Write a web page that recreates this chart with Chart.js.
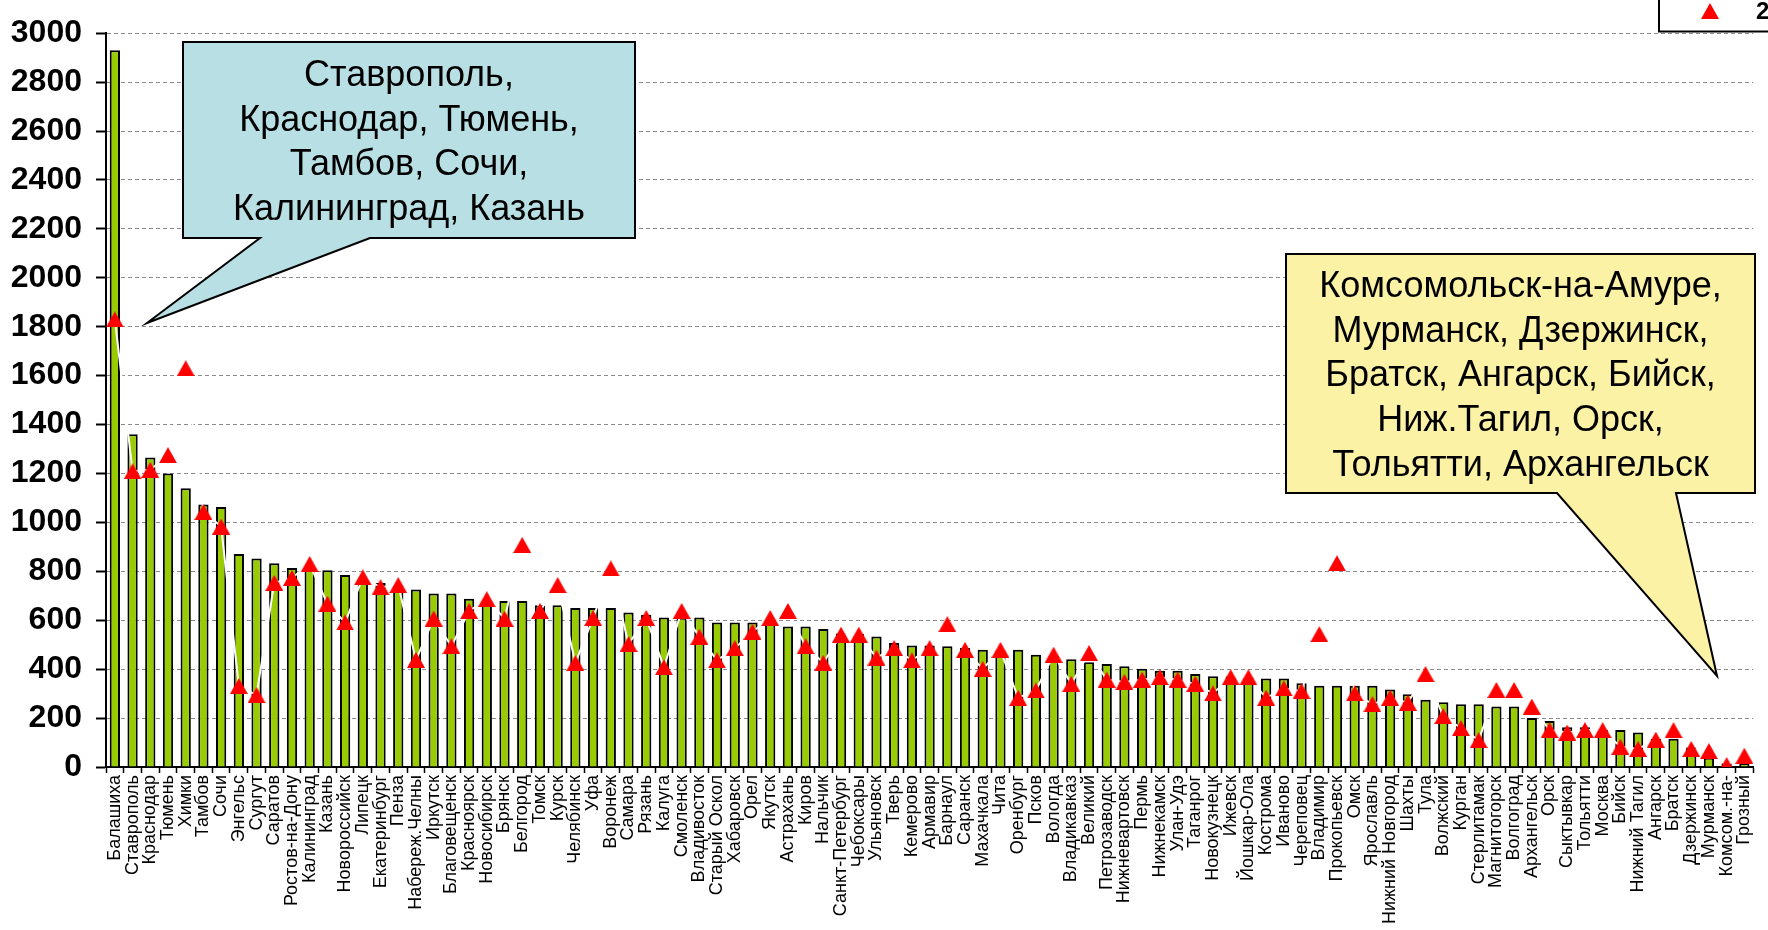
<!DOCTYPE html>
<html><head><meta charset="utf-8">
<script src="https://cdn.jsdelivr.net/npm/chart.js@4/dist/chart.umd.min.js"></script>
<style>html,body{margin:0;padding:0;background:#fff;overflow:hidden}#wrap{width:1768px;height:930px;position:relative}</style>
</head><body><div id="wrap"><canvas id="c" width="1768" height="930"></canvas></div>
<script>
const cities = ["Балашиха","Ставрополь","Краснодар","Тюмень","Химки","Тамбов","Сочи","Энгельс","Сургут","Саратов",
"Ростов-на-Дону","Калининград","Казань","Новороссийск","Липецк","Екатеринбург","Пенза","Набереж.Челны","Иркутск","Благовещенск",
"Красноярск","Новосибирск","Брянск","Белгород","Томск","Курск","Челябинск","Уфа","Воронеж","Самара",
"Рязань","Калуга","Смоленск","Владивосток","Старый Оскол","Хабаровск","Орел","Якутск","Астрахань","Киров",
"Нальчик","Санкт-Петербург","Чебоксары","Ульяновск","Тверь","Кемерово","Армавир","Барнаул","Саранск","Махачкала",
"Чита","Оренбург","Псков","Вологда","Владикавказ","Великий","Петрозаводск","Нижневартовск","Пермь","Нижнекамск",
"Улан-Удэ","Таганрог","Новокузнецк","Ижевск","Йошкар-Ола","Кострома","Иваново","Череповец","Владимир","Прокопьевск",
"Омск","Ярославль","Нижний Новгород","Шахты","Тула","Волжский","Курган","Стерлитамак","Магнитогорск","Волгоград",
"Архангельск","Орск","Сыктывкар","Тольятти","Москва","Бийск","Нижний Тагил","Ангарск","Братск","Дзержинск",
"Мурманск","Комсом.-на-","Грозный"];

const barValues = [2930,1360,1265,1200,1140,1073,1063,871,852,833,
814,810,804,785,770,752,740,726,709,709,
688,680,679,679,661,661,650,650,650,632,
622,611,610,611,591,591,591,590,574,574,
564,546,545,534,507,497,497,494,486,479,
475,479,459,455,441,428,421,412,402,393,
393,380,371,370,365,362,362,342,332,332,
332,332,317,297,275,265,257,257,247,247,
200,188,162,162,152,151,141,115,115,80,
38,15,13];

const markerValues = [1830,1209,1215,1275,1630,1043,983,331,294,753,
773,830,668,591,775,735,744,438,607,494,
638,686,607,908,638,744,426,609,812,503,
609,408,638,533,436,486,553,609,638,494,
426,541,541,447,486,436,486,584,479,401,
479,283,313,459,340,466,357,348,357,367,
357,340,301,367,367,283,321,310,543,833,
301,257,283,263,380,208,159,110,315,315,
247,151,141,151,151,83,74,112,151,74,
65,8,46];

const seriesNames = ["2009","2010"];
const yMin = 0, yMax = 3000, yStep = 200;

const calloutLeftLines = ["Ставрополь,","Краснодар, Тюмень,","Тамбов, Сочи,","Калининград, Казань"];
const calloutRightLines = ["Комсомольск-на-Амуре,","Мурманск, Дзержинск,","Братск, Ангарск, Бийск,","Ниж.Тагил, Орск,","Тольятти, Архангельск"];

const FONT = "'Liberation Sans', Arial, sans-serif";

function makeTriangle(w, h, color) {
  const cv = document.createElement('canvas');
  cv.width = w; cv.height = h;
  const g = cv.getContext('2d');
  g.fillStyle = color;
  g.beginPath();
  g.moveTo(w / 2, 0);
  g.lineTo(w, h);
  g.lineTo(0, h);
  g.closePath();
  g.fill();
  return cv;
}
const triMarker = makeTriangle(18, 16, '#ff0000');

function drawCallout(ctx, box, tail, fill, lines) {
  ctx.save();
  ctx.beginPath();
  ctx.moveTo(box.l, box.t);
  ctx.lineTo(box.r, box.t);
  ctx.lineTo(box.r, box.b);
  ctx.lineTo(tail.b2, box.b);
  ctx.lineTo(tail.tx, tail.ty);
  ctx.lineTo(tail.b1, box.b);
  ctx.lineTo(box.l, box.b);
  ctx.closePath();
  ctx.fillStyle = fill;
  ctx.fill();
  ctx.lineWidth = 2;
  ctx.strokeStyle = '#000';
  ctx.lineJoin = 'miter';
  ctx.stroke();
  ctx.fillStyle = '#000';
  ctx.font = "36px " + FONT;
  ctx.textAlign = 'center';
  ctx.textBaseline = 'middle';
  const cx = (box.l + box.r) / 2, cy = (box.t + box.b) / 2;
  const lh = 44.6;
  const n = lines.length;
  lines.forEach((s, i) => {
    ctx.fillText(s, cx, cy + (i - (n - 1) / 2) * lh + 3);
  });
  ctx.restore();
}

const overlayPlugin = {
  id: 'overlay',
  afterDraw(chart) {
    const ctx = chart.ctx;
    drawCallout(ctx, {l:183, t:42, r:635, b:238}, {b1:260, b2:370, tx:147, ty:323}, '#b8dfe3', calloutLeftLines);
    drawCallout(ctx, {l:1286, t:254, r:1755, b:493}, {b1:1557, b2:1676, tx:1717, ty:676}, '#fcf2a6', calloutRightLines);
    // legend (partly outside canvas)
    ctx.save();
    ctx.fillStyle = '#fff';
    ctx.fillRect(1659, -10, 200, 41.5);
    ctx.lineWidth = 2;
    ctx.strokeStyle = '#000';
    ctx.strokeRect(1659, -10, 200, 41.5);
    ctx.drawImage(triMarker, 1701, 3);
    ctx.fillStyle = '#000';
    ctx.font = "bold 24px " + FONT;
    ctx.textAlign = 'left';
    ctx.textBaseline = 'middle';
    ctx.fillText(seriesNames[1], 1756, 12);
    ctx.restore();
  }
};

new Chart(document.getElementById('c'), {
  data: {
    labels: cities,
    datasets: [
      {
        type: 'line',
        label: seriesNames[1],
        data: markerValues,
        borderColor: '#ffffff',
        borderWidth: 2,
        tension: 0,
        pointStyle: triMarker,
        pointRadius: 9,
        pointHoverRadius: 9,
        pointBackgroundColor: '#ff0000',
        pointBorderColor: '#ff0000',
        pointBorderWidth: 0,
        order: 0
      },
      {
        type: 'bar',
        label: seriesNames[0],
        data: barValues,
        backgroundColor: '#99cc00',
        borderColor: '#000000',
        borderWidth: 2,
        barPercentage: 0.58,
        categoryPercentage: 1.0,
        order: 1
      }
    ]
  },
  options: {
    responsive: false,
    animation: false,
    devicePixelRatio: 1,
    layout: { padding: { top: 25, right: 3, left: 0, bottom: 0 } },
    plugins: { legend: { display: false }, tooltip: { enabled: false } },
    scales: {
      x: {
        offset: true,
        grid: { display: true, drawOnChartArea: false, drawTicks: true, tickLength: 6, tickColor: '#000', tickWidth: 1.5 },
        border: { display: true, color: '#000', width: 2 },
        ticks: { autoSkip: false, minRotation: 90, maxRotation: 90, padding: 2, color: '#000', font: { family: FONT, size: 18 } },
        afterFit(s) { s.height = 163; }
      },
      y: {
        min: yMin, max: yMax,
        grid: {
          color: (c) => (c.tick && c.tick.value === 0) ? 'rgba(0,0,0,0)' : '#8a8a8a',
          lineWidth: 1,
          drawTicks: true, tickLength: 10, tickColor: '#000', tickWidth: 2, tickBorderDash: []
        },
        border: { display: true, color: '#000', width: 2, dash: [4, 3] },
        ticks: { stepSize: yStep, padding: 14, color: '#000', font: { family: FONT, size: 32, weight: 'bold' },
                 callback: (v) => String(v) },
        afterFit(s) { s.width = 106; }
      }
    }
  },
  plugins: [overlayPlugin]
});
</script>
</body></html>
